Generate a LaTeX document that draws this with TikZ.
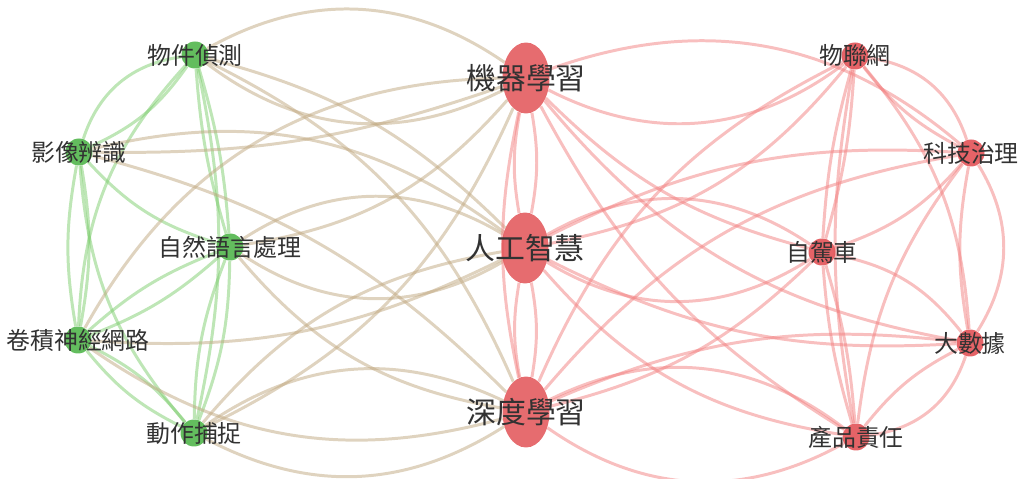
\documentclass[tikz,border=0pt]{standalone}
\usepackage{fontspec}
\usepackage{tikz}
\usetikzlibrary{shapes.geometric}
\newfontfamily\cjk{Noto Sans CJK TC}
\definecolor{gnode}{RGB}{82,182,76}
\definecolor{rnode}{RGB}{226,82,86}
\definecolor{gedge}{RGB}{125,205,110}
\definecolor{redge}{RGB}{242,128,128}
\definecolor{tedge}{RGB}{192,168,128}
\definecolor{txt}{RGB}{50,50,50}
\pgfdeclarelayer{bg}
\pgfsetlayers{bg,main}

\begin{document}
\begin{tikzpicture}
  [x=0.02cm,y=-0.02cm,
   gdot/.style={circle,fill=gnode,fill opacity=.9,minimum size=0.54cm,inner sep=0},
   rdot/.style={circle,fill=rnode,fill opacity=.9,minimum size=0.54cm,inner sep=0},
   bigdot/.style={ellipse,fill=rnode,fill opacity=.85,minimum width=0.94cm,minimum height=1.42cm,inner sep=0},
   lbl/.style={font=\cjk\fontsize{13.6}{14}\selectfont,text=txt,inner sep=0},
   biglbl/.style={font=\cjk\fontsize{17}{18}\selectfont,text=txt,inner sep=0},
   gg/.style={draw=gedge,line width=1.7pt,draw opacity=.5},
   tt/.style={draw=tedge,line width=1.7pt,draw opacity=.5},
   rr/.style={draw=redge,line width=1.7pt,draw opacity=.5}]

  \useasboundingbox (0,0) rectangle (1025,479);

  % green cluster
  \node[gdot] (wujian) at (195,55) {};
  \node[gdot] (yingxiang) at (79,152) {};
  \node[gdot] (ziran) at (230,247) {};
  \node[gdot] (juanji) at (78,340) {};
  \node[gdot] (dongzuo) at (194,433) {};

  % big nodes
  \node[bigdot] (jiqi) at (526,78) {};
  \node[bigdot] (rengong) at (525,248) {};
  \node[bigdot] (shendu) at (526,412) {};

  % red cluster
  \node[rdot] (wulian) at (855,56) {};
  \node[rdot] (keji) at (971,153) {};
  \node[rdot] (zijia) at (822,252) {};
  \node[rdot] (dashu) at (970,343) {};
  \node[rdot] (chanpin) at (856,437) {};

  \begin{pgfonlayer}{bg}
    \foreach \a/\b/\c in {yingxiang/wujian/32,wujian/yingxiang/15,wujian/ziran/6,ziran/wujian/6,
        wujian/juanji/-20,wujian/dongzuo/12,yingxiang/juanji/10,juanji/yingxiang/10,
        yingxiang/ziran/-15,yingxiang/dongzuo/-18,juanji/ziran/10,ziran/juanji/10,
        juanji/dongzuo/12,dongzuo/juanji/12,ziran/dongzuo/10,dongzuo/ziran/10}
      \draw[gg] (\a) to[bend left=\c] (\b);

    \foreach \a/\b/\c in {wujian/jiqi/32,jiqi/wujian/32,wujian/rengong/15,wujian/shendu/20,
        yingxiang/rengong/25,yingxiang/jiqi/-10,yingxiang/shendu/15,
        ziran/rengong/32,rengong/ziran/32,ziran/jiqi/-20,ziran/shendu/-20,
        juanji/jiqi/30,juanji/rengong/-15,juanji/shendu/-25,
        dongzuo/shendu/30,shendu/dongzuo/30,dongzuo/jiqi/-20,dongzuo/rengong/20}
      \draw[tt] (\a) to[bend left=\c] (\b);

    \foreach \a/\b/\c in {jiqi/rengong/10,rengong/jiqi/10,rengong/shendu/10,shendu/rengong/10,
        jiqi/shendu/-12,
        wulian/jiqi/32,jiqi/keji/30,jiqi/zijia/-15,jiqi/dashu/-20,jiqi/chanpin/-15,
        rengong/zijia/32,zijia/rengong/32,rengong/wulian/-20,rengong/keji/15,
        rengong/dashu/-15,rengong/chanpin/-20,
        shendu/chanpin/32,chanpin/shendu/32,shendu/wulian/20,shendu/keji/20,
        shendu/dashu/15,shendu/zijia/-15,
        wulian/keji/32,keji/wulian/12,keji/dashu/32,dashu/keji/10,
        dashu/chanpin/32,chanpin/dashu/12,wulian/zijia/6,zijia/wulian/6,
        zijia/chanpin/6,chanpin/zijia/6,wulian/chanpin/-10,keji/zijia/15,
        keji/chanpin/-15,zijia/dashu/20,wulian/dashu/18}
      \draw[rr] (\a) to[bend left=\c] (\b);
  \end{pgfonlayer}

  % labels
  \node[lbl] (wujian-t) at (wujian) {物件偵測};
  \node[lbl] (yingxiang-t) at (yingxiang) {影像辨識};
  \node[lbl] (ziran-t) at (ziran) {自然語言處理};
  \node[lbl] (juanji-t) at (juanji) {卷積神經網路};
  \node[lbl] (dongzuo-t) at (dongzuo) {動作捕捉};
  \node[biglbl] (jiqi-t) at (jiqi) {機器學習};
  \node[biglbl] (rengong-t) at (rengong) {人工智慧};
  \node[biglbl] (shendu-t) at (shendu) {深度學習};
  \node[lbl] (wulian-t) at (wulian) {物聯網};
  \node[lbl] (keji-t) at (keji) {科技治理};
  \node[lbl] (zijia-t) at (zijia) {自駕車};
  \node[lbl] (dashu-t) at (dashu) {大數據};
  \node[lbl] (chanpin-t) at (chanpin) {產品責任};

\end{tikzpicture}
\end{document}
